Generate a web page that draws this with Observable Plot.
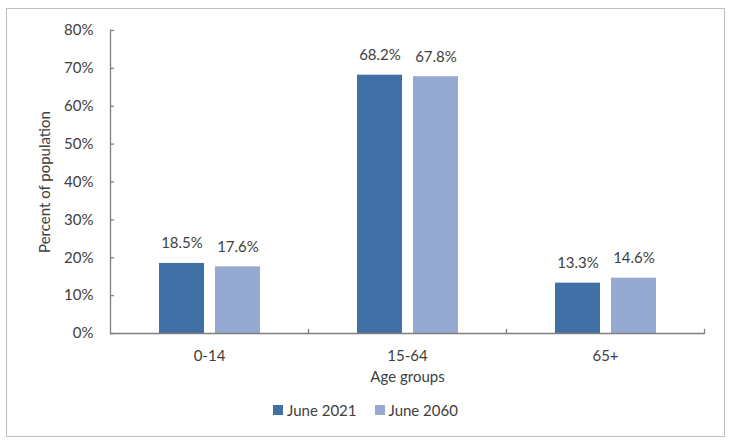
<!DOCTYPE html>
<html>
<head>
<meta charset="utf-8">
<script src="https://cdn.jsdelivr.net/npm/d3@7"></script>
<script src="https://cdn.jsdelivr.net/npm/@observablehq/plot@0.6"></script>
<style>
  html, body { margin: 0; padding: 0; background: #fff; }
  body { position: relative; width: 731px; height: 447px; font-family: Lato, "Open Sans", sans-serif; color: #404040; }
  #border { position: absolute; left: 6px; top: 8px; width: 719px; height: 429px; border: 1px solid #bfbfbf; box-sizing: border-box; pointer-events: none; }
  #chart { position: absolute; left: 0; top: 0; }
  #legend { position: absolute; left: 0; top: 400px; width: 731px; height: 20px; display: flex; justify-content: center; align-items: center; font-size: 15px; color: #404040; }
  #legend .item { display: flex; align-items: center; margin: 0 9px; }
  #legend .sw { width: 10px; height: 10px; margin-right: 4px; }
</style>
</head>
<body>
<div id="chart"></div>
<div id="legend"></div>
<div id="border"></div>
<script>
const groups = ["0-14", "15-64", "65+"];
const series = ["June 2021", "June 2060"];
const june2021 = [18.5, 68.2, 13.3];
const june2060 = [17.6, 67.8, 14.6];
const colors = ["#4170a6", "#95a9d1"];
const yTicks = [0, 10, 20, 30, 40, 50, 60, 70, 80];

const data = [];
groups.forEach((g, i) => {
  data.push({group: g, series: series[0], value: june2021[i]});
  data.push({group: g, series: series[1], value: june2060[i]});
});

const textColor = "#404040";
const axisColor = "#7f7f7f";
const chart = Plot.plot({
  width: 731,
  height: 400,
  marginLeft: 110,
  marginRight: 27,
  marginTop: 30,
  marginBottom: 67,
  style: {fontFamily: "Lato, 'Open Sans', sans-serif", fontSize: "15px", color: textColor, background: "transparent"},
  fx: {domain: groups, padding: 0, label: null},
  x: {domain: series, paddingInner: 0.2, paddingOuter: 0.84, axis: null},
  y: {domain: [0, 80], label: null},
  color: {domain: series, range: colors},
  marks: [
    Plot.barY(data, {fx: "group", x: "series", y: "value", fill: "series"}),
    Plot.text(data, {fx: "group", x: "series", y: "value", text: d => d.value.toFixed(1) + "%", lineAnchor: "bottom", dy: -15, fill: textColor, fontSize: 15}),
    Plot.ruleY([0], {stroke: axisColor, strokeWidth: 1.3}),
    Plot.frame({anchor: "right", insetTop: 299, stroke: axisColor, strokeWidth: 1.3}),
    Plot.frame({anchor: "left", fx: [groups[0]], stroke: axisColor, strokeWidth: 1.3}),
    Plot.axisY({ticks: yTicks, tickFormat: d => d + "%", tickSize: -4, tickPadding: 21, stroke: axisColor, strokeWidth: 1.3, fill: textColor, fontSize: 15, label: "Percent of population", labelAnchor: "center", labelOffset: 71, labelArrow: "none"}),
    Plot.axisFx({anchor: "bottom", tickSize: 0, tickPadding: 17, fill: textColor, fontSize: 15, label: "Age groups", labelAnchor: "center", labelOffset: 48, labelArrow: "none"})
  ]
});
document.getElementById("chart").appendChild(chart);

const legend = document.getElementById("legend");
series.forEach((s, i) => {
  const item = document.createElement("div");
  item.className = "item";
  const sw = document.createElement("div");
  sw.className = "sw";
  sw.style.background = colors[i];
  const lab = document.createElement("span");
  lab.textContent = s;
  item.appendChild(sw);
  item.appendChild(lab);
  legend.appendChild(item);
});
</script>
</body>
</html>
